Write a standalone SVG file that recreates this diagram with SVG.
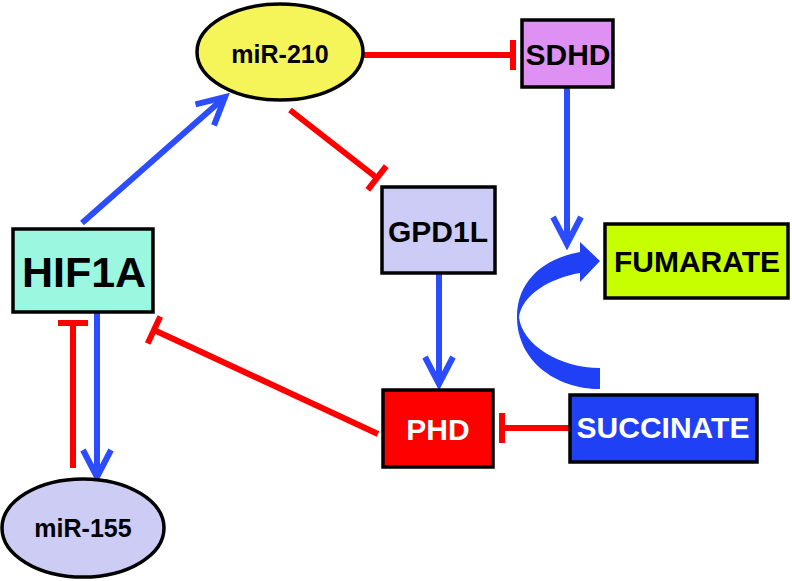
<svg xmlns="http://www.w3.org/2000/svg" width="792" height="581" viewBox="0 0 792 581">
<style>
text{font-family:"Liberation Sans",Arial,sans-serif;font-weight:bold;text-anchor:middle;fill:#000}
.node{stroke:#000;stroke-width:3.5}
.act{stroke:#2b4cff;stroke-width:6;fill:none}
.inh{stroke:#ff0000;stroke-width:6;fill:none}
.w{fill:#fff}
</style>
<defs>
<marker id="arrow" viewBox="-34 -20 40 40" refX="0" refY="0" markerWidth="40" markerHeight="40" markerUnits="userSpaceOnUse" orient="auto">
<path d="M-27,-14 L0,0 L-27,14" fill="none" stroke="#2b4cff" stroke-width="6" stroke-linejoin="miter"/>
</marker>
<marker id="tbar" viewBox="-5 -20 10 40" refX="0" refY="0" markerWidth="10" markerHeight="40" markerUnits="userSpaceOnUse" orient="auto">
<path d="M0,-15 L0,15" stroke="#ff0000" stroke-width="6"/>
</marker>
</defs>
<rect width="792" height="581" fill="#fff"/>
<g id="connectors">
<line class="act" x1="82" y1="223" x2="225" y2="97" marker-end="url(#arrow)"/>
<line class="inh" x1="364" y1="55" x2="513" y2="55" marker-end="url(#tbar)"/>
<line class="inh" x1="290" y1="110" x2="377" y2="178" marker-end="url(#tbar)"/>
<line class="act" x1="567" y1="87" x2="567" y2="244" marker-end="url(#arrow)"/>
<line class="act" x1="439" y1="273" x2="439" y2="384" marker-end="url(#arrow)"/>
<line class="inh" x1="378" y1="434" x2="154" y2="330" marker-end="url(#tbar)"/>
<line class="inh" x1="570" y1="428" x2="502" y2="428" marker-end="url(#tbar)"/>
<line class="inh" x1="73" y1="468" x2="73" y2="323" marker-end="url(#tbar)"/>
<line class="act" x1="97" y1="313" x2="97" y2="477" marker-end="url(#arrow)"/>
<path d="M600,389 C555,389 517,360 517,317 C517,280 545,258 580,252 L580,242 L600,261 L580,282 L580,273 C550,278 522,295 519,317 C522,345 560,368 600,368 Z" fill="#2040f5"/>
</g>
<g id="miR-210">
<ellipse class="node" cx="280" cy="52" rx="83" ry="48" fill="#f5f55a"/>
<text x="280" y="63" font-size="25">miR-210</text>
</g>
<g id="SDHD">
<rect class="node" x="522" y="20" width="91" height="67" fill="#df90f3"/>
<text x="568" y="65" font-size="30">SDHD</text>
</g>
<g id="HIF1A">
<rect class="node" x="13" y="229" width="140" height="83" fill="#9cf7e1"/>
<text x="84" y="287" font-size="43">HIF1A</text>
</g>
<g id="GPD1L">
<rect class="node" x="382" y="187" width="113" height="86" fill="#ccccf7"/>
<text x="438" y="242" font-size="30">GPD1L</text>
</g>
<g id="FUMARATE">
<rect class="node" x="605" y="224" width="183" height="74" fill="#c8ff00"/>
<text x="697" y="272" font-size="30">FUMARATE</text>
</g>
<g id="PHD">
<rect class="node" x="383" y="390" width="110" height="77" fill="#ff0000"/>
<text class="w" x="438" y="440" font-size="30">PHD</text>
</g>
<g id="SUCCINATE">
<rect class="node" x="570" y="395" width="187" height="67" fill="#2040f5"/>
<text class="w" x="663" y="438" font-size="30">SUCCINATE</text>
</g>
<g id="miR-155">
<ellipse class="node" cx="83" cy="528" rx="81" ry="49" fill="#ccccf5"/>
<text x="83" y="537" font-size="25">miR-155</text>
</g>
</svg>
